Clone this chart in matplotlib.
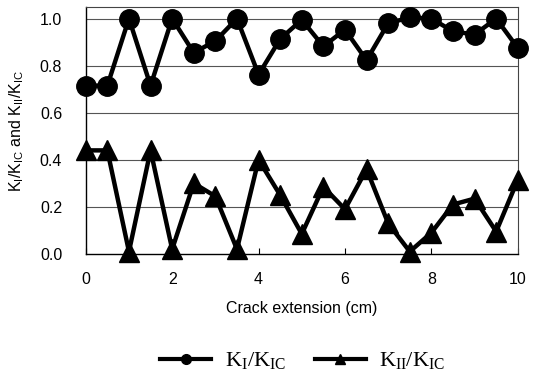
import matplotlib
matplotlib.use("Agg")
import matplotlib.pyplot as plt
from matplotlib.lines import Line2D

crack_ext = [0, 0.5, 1.0, 1.5, 2.0, 2.5, 3.0, 3.5, 4.0, 4.5, 5.0, 5.5, 6.0, 6.5, 7.0, 7.5, 8.0, 8.5, 9.0, 9.5, 10.0]
k1_ratio = [0.715, 0.715, 1.0, 0.715, 1.0, 0.855, 0.905, 1.0, 0.762, 0.913, 0.995, 0.882, 0.953, 0.823, 0.98, 1.005, 1.0, 0.946, 0.932, 1.0, 0.875]
k2_ratio = [0.44, 0.44, 0.01, 0.44, 0.02, 0.30, 0.245, 0.02, 0.40, 0.25, 0.085, 0.285, 0.19, 0.36, 0.13, 0.01, 0.09, 0.21, 0.235, 0.095, 0.315]
x_ticks = [0, 2, 4, 6, 8, 10]
y_ticks = [0.0, 0.2, 0.4, 0.6, 0.8, 1.0]

plt.rcParams['font.family'] = ['Liberation Sans', 'DejaVu Sans']

fig = plt.figure(figsize=(5.36, 3.79), dpi=100)
ax = fig.add_axes([0.160, 0.330, 0.806, 0.652])

for y in y_ticks[1:]:
    ax.axhline(y, color='#555555', lw=0.8, zorder=0)

ax.plot(crack_ext, k1_ratio, color='black', lw=3.2, marker='o', ms=14, clip_on=False, zorder=3)
ax.plot(crack_ext, k2_ratio, color='black', lw=3.2, marker='^', ms=14, clip_on=False, zorder=3)

ax.set_xlim(0, 10)
ax.set_ylim(0, 1.05)
ax.set_xticks(x_ticks)
ax.set_xticklabels([str(v) for v in x_ticks])
ax.set_yticks(y_ticks)
ax.set_yticklabels([f"{v:.1f}" for v in y_ticks])
ax.tick_params(axis='x', direction='in', length=4, labelsize=11.5, pad=13)
ax.tick_params(axis='y', length=0, labelsize=11.5, pad=17)

for s in ['left', 'bottom']:
    ax.spines[s].set_linewidth(1.0)
for s in ['top', 'right']:
    ax.spines[s].set_linewidth(0.8)
    ax.spines[s].set_linestyle((0, (4, 1)))
    ax.spines[s].set_color('#444444')

ax.set_xlabel('Crack extension (cm)', fontsize=11.5, labelpad=10)
ax.set_ylabel(r'K$_\mathregular{I}$/K$_\mathregular{IC}$ and K$_\mathregular{II}$/K$_\mathregular{IC}$',
              fontsize=11.5, labelpad=10)

handles = [Line2D([], [], color='black', lw=3.0, marker='o', ms=7),
           Line2D([], [], color='black', lw=3.0, marker='^', ms=7)]
labels = [r'K$_\mathregular{I}$/K$_\mathregular{IC}$', r'K$_\mathregular{II}$/K$_\mathregular{IC}$']
fig.legend(handles, labels, loc='center', bbox_to_anchor=(0.565, 0.047), ncol=2, frameon=False,
           prop={'family': 'Liberation Serif', 'size': 16}, handlelength=2.3, columnspacing=1.3,
           handletextpad=0.6)

fig.savefig('out.png', dpi=100)
